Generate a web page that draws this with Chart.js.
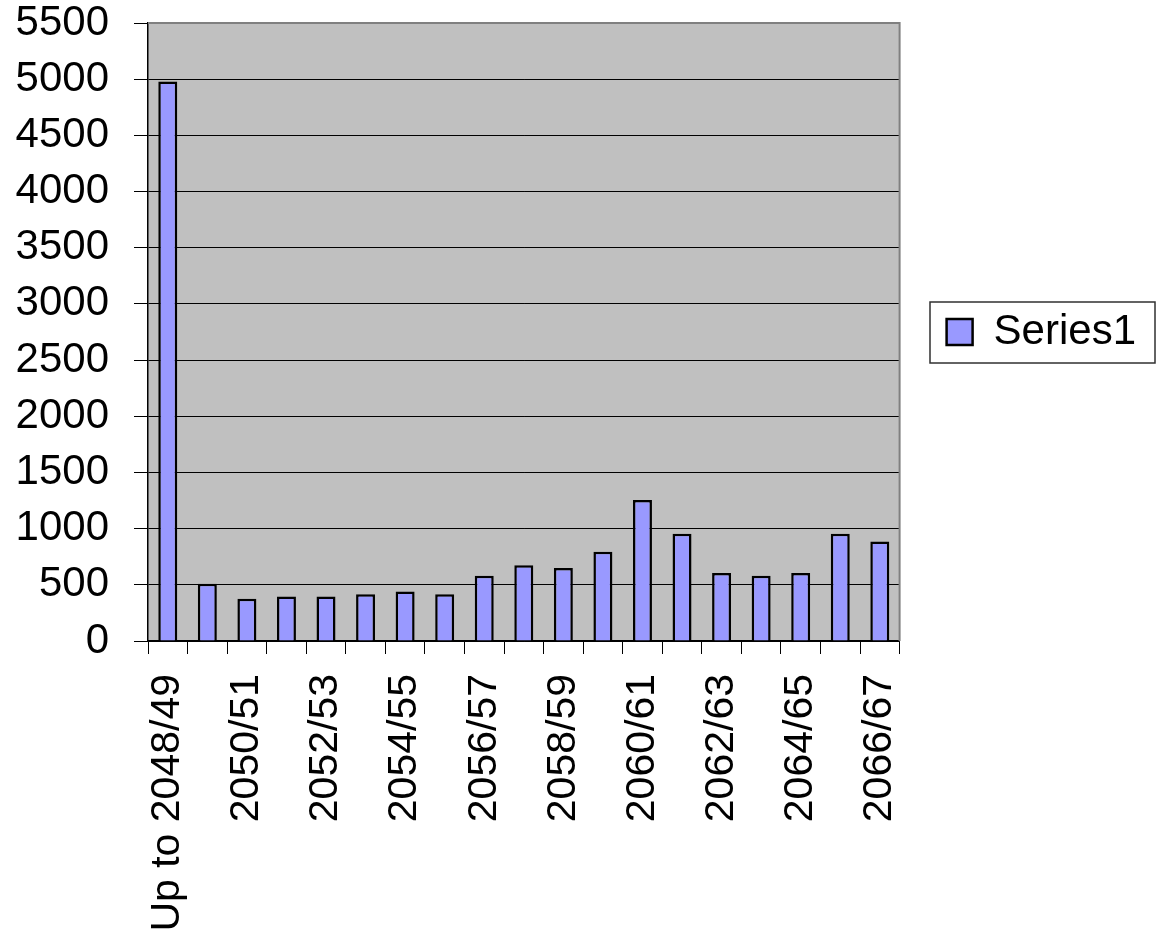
<!DOCTYPE html>
<html>
<head>
<meta charset="utf-8">
<script src="https://cdn.jsdelivr.net/npm/chart.js@4"></script>
<style>
  html, body { margin: 0; padding: 0; background: #fff; }
  #wrap { width: 1157px; height: 938px; }
</style>
</head>
<body>
<div id="wrap"><canvas id="chart" width="1157" height="938"></canvas></div>
<script>
/* ── data ── */
const categories = [
  'Up to 2048/49', '2049/50', '2050/51', '2051/52', '2052/53', '2053/54',
  '2054/55', '2055/56', '2056/57', '2057/58', '2058/59', '2059/60',
  '2060/61', '2061/62', '2062/63', '2063/64', '2064/65', '2065/66', '2066/67'
];
const series1 = [
  4980, 510, 375, 395, 395, 415, 440, 415, 580, 675,
  650, 795, 1255, 955, 605, 580, 605, 955, 885
];
const yTicks = [0, 500, 1000, 1500, 2000, 2500, 3000, 3500, 4000, 4500, 5000, 5500];

const FAMILY = "'Liberation Sans', Arial, sans-serif";

/* ── plot background + grey top/right frame + legend frame ── */
const plotFrame = {
  id: 'plotFrame',
  beforeDraw(chart) {
    const { ctx, chartArea: a } = chart;
    ctx.save();
    ctx.fillStyle = '#c0c0c0';
    ctx.fillRect(a.left, a.top, a.right - a.left, a.bottom - a.top);
    ctx.restore();
  },
  afterDraw(chart) {
    const { ctx, chartArea: a } = chart;
    ctx.save();
    ctx.strokeStyle = '#808080';
    ctx.lineWidth = 2;
    ctx.beginPath();
    ctx.moveTo(a.left, a.top);
    ctx.lineTo(a.right, a.top);
    ctx.lineTo(a.right, a.bottom);
    ctx.stroke();
    const hb = chart.legend.legendHitBoxes[0];
    if (hb) {
      const cy = hb.top + hb.height / 2;
      ctx.strokeStyle = '#303030';
      ctx.lineWidth = 1.5;
      ctx.strokeRect(930, cy - 30, 225, 61);
    }
    ctx.restore();
  }
};

new Chart(document.getElementById('chart'), {
  type: 'bar',
  data: {
    labels: categories,
    datasets: [{
      label: 'Series1',
      data: series1,
      backgroundColor: '#9999ff',
      borderColor: '#000',
      borderWidth: 2.5,
      borderSkipped: 'bottom',
      categoryPercentage: 1,
      barPercentage: 0.48
    }]
  },
  options: {
    responsive: false,
    animation: false,
    layout: { padding: { top: 23, right: 11, bottom: 0, left: 0 } },
    plugins: {
      tooltip: { enabled: false },
      legend: {
        position: 'right',
        fullSize: false,
        labels: {
          color: '#000',
          font: { family: FAMILY, size: 42 },
          boxWidth: 26,
          boxHeight: 26,
          padding: 47,
          useBorderRadius: false
        }
      }
    },
    scales: {
      x: {
        offset: true,
        grid: {
          offset: true,
          drawOnChartArea: false,
          drawTicks: true,
          tickLength: 13,
          color: '#000'
        },
        border: { display: true, color: '#000', width: 1.5 },
        ticks: {
          color: '#000',
          font: { family: FAMILY, size: 41 },
          autoSkip: false,
          minRotation: 90,
          maxRotation: 90,
          padding: 20,
          callback: (v, i) => (i % 2 ? '' : categories[i])
        },
        afterFit: s => { s.height = 297; s.paddingTop = 0; s.paddingLeft = 0; s.paddingRight = 0; }
      },
      y: {
        min: 0,
        max: 5500,
        afterBuildTicks: s => { s.ticks = yTicks.map(v => ({ value: v })); },
        grid: { color: '#000', lineWidth: 1, tickLength: 14 },
        border: { display: true, color: '#000', width: 1.5 },
        ticks: {
          color: '#000',
          font: { family: FAMILY, size: 42 },
          padding: 25,
          callback: v => String(v)
        },
        afterFit: s => { s.width = 148; s.paddingTop = 0; s.paddingBottom = 0; }
      }
    }
  },
  plugins: [plotFrame]
});
</script>
</body>
</html>
